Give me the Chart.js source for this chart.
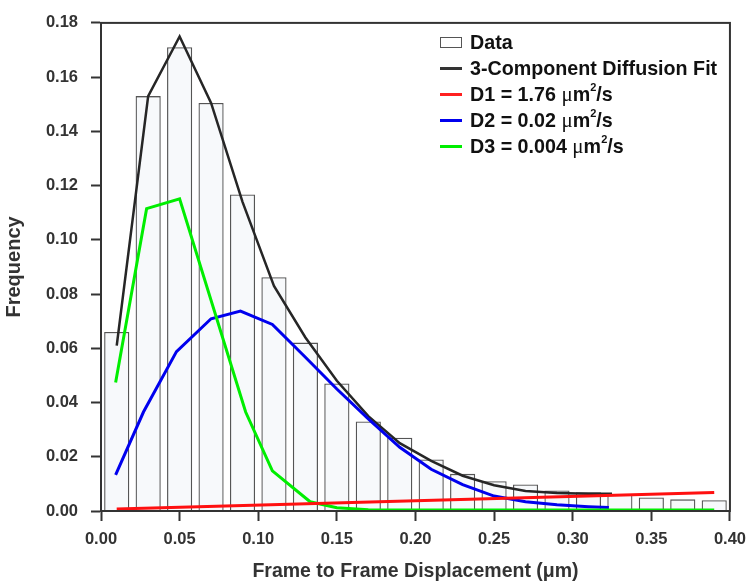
<!DOCTYPE html>
<html>
<head>
<meta charset="utf-8">
<script src="https://cdn.jsdelivr.net/npm/chart.js@4.4.0/dist/chart.umd.min.js"></script>
<style>
  body { margin: 0; background: #fff; }
  #wrap { position: relative; width: 755px; height: 588px; }
  #legend {
    position: absolute; left: 440px; top: 30px;
    font-family: "Liberation Sans", Arial, sans-serif; font-weight: bold;
    font-size: 19.7px; color: #111;
  }
  .row { height: 25.8px; display: flex; align-items: center; white-space: nowrap; }
  .sw { width: 22px; margin-right: 8px; box-sizing: border-box; flex: none; }
  .ln { height: 3px; }
  .bx { height: 11px; border: 1px solid #555; }
  .mu { font-family: "Liberation Serif", serif; font-weight: normal; font-size: 21px; }
  sup { font-size: 11px; position: relative; top: -7px; line-height: 0; vertical-align: baseline; }
</style>
</head>
<body>
<div id="wrap">
  <canvas id="myChart" width="755" height="588"></canvas>
  <div id="legend">
    <div class="row"><span class="sw bx"></span>Data</div>
    <div class="row"><span class="sw ln" style="background:#333"></span>3-Component Diffusion Fit</div>
    <div class="row"><span class="sw ln" style="background:#ff2020"></span>D1 = 1.76&nbsp;<span class="mu">μ</span>m<sup>2</sup>/s</div>
    <div class="row"><span class="sw ln" style="background:#0000ee"></span>D2 = 0.02&nbsp;<span class="mu">μ</span>m<sup>2</sup>/s</div>
    <div class="row"><span class="sw ln" style="background:#00ee00"></span>D3 = 0.004&nbsp;<span class="mu">μ</span>m<sup>2</sup>/s</div>
  </div>
</div>
<script>
// histogram bins (centre of each bin, um) and frequencies
const binCenters = [0.01, 0.03, 0.05, 0.07, 0.09, 0.11, 0.13, 0.15, 0.17, 0.19,
    0.21, 0.23, 0.25, 0.27, 0.29, 0.31, 0.33, 0.35, 0.37, 0.39];
const binFreq = [0.066, 0.153, 0.171, 0.1505, 0.1167, 0.0862, 0.0621, 0.047, 0.033, 0.027,
    0.019, 0.0137, 0.011, 0.0098, 0.0076, 0.0069, 0.006, 0.005, 0.0043, 0.004];

// 3-component fit
const fitX = [0.01, 0.03, 0.05, 0.07, 0.09, 0.11, 0.13, 0.15, 0.17, 0.19,
    0.21, 0.23, 0.25, 0.27, 0.29, 0.31, 0.325];
const fitY = [0.061, 0.153, 0.175, 0.1505, 0.114, 0.083, 0.064, 0.048, 0.035, 0.025,
    0.0185, 0.013, 0.0095, 0.0074, 0.0066, 0.0064, 0.0064];

// D1 component
const d1X = [0.01, 0.39];
const d1Y = [0.0007, 0.0068];

// D2 component
const d2X = [0.0093, 0.027, 0.048, 0.07, 0.0887, 0.109, 0.13, 0.15, 0.17, 0.19,
    0.21, 0.23, 0.25, 0.27, 0.29, 0.31, 0.323];
const d2Y = [0.0133, 0.0365, 0.0588, 0.0709, 0.0737, 0.0688, 0.0567, 0.045, 0.034, 0.0235,
    0.0154, 0.0097, 0.0055, 0.0034, 0.0023, 0.0016, 0.0013];

// D3 component
const d3X = [0.0093, 0.029, 0.05, 0.092, 0.109, 0.133, 0.15, 0.17, 0.2, 0.39];
const d3Y = [0.0474, 0.1115, 0.1151, 0.0365, 0.0148, 0.0034, 0.0012, 0.0005, 0.0004, 0.0004];

const pts = (xs, ys) => xs.map((x, i) => ({ x: x, y: ys[i] }));

const fontFam = '"Liberation Sans", Arial, sans-serif';
const axisColor = '#333';

// box round the plot area (top and right edges)
const frame = {
    id: 'frame',
    afterDraw(chart) {
        const a = chart.chartArea;
        const ctx = chart.ctx;
        ctx.save();
        ctx.strokeStyle = axisColor;
        ctx.lineWidth = 2;
        ctx.strokeRect(a.left, a.top, a.right - a.left, a.bottom - a.top);
        ctx.restore();
    }
};

const lineDefaults = {
    type: 'line',
    pointRadius: 0,
    borderWidth: 3,
    tension: 0,
    fill: false
};

const data = {
    datasets: [
        Object.assign({}, lineDefaults, {
            label: 'D1', data: pts(d1X, d1Y), borderColor: '#ff1010', order: 1
        }),
        Object.assign({}, lineDefaults, {
            label: 'D3', data: pts(d3X, d3Y), borderColor: '#00ee00', order: 2
        }),
        Object.assign({}, lineDefaults, {
            label: 'D2', data: pts(d2X, d2Y), borderColor: '#0000ee', order: 3
        }),
        Object.assign({}, lineDefaults, {
            label: '3-Component Diffusion Fit', data: pts(fitX, fitY),
            borderColor: '#262626', borderWidth: 2.5, order: 4
        }),
        {
            type: 'bar',
            label: 'Data',
            data: pts(binCenters, binFreq),
            backgroundColor: 'rgba(240,243,247,0.5)',
            borderColor: '#555',
            borderWidth: 1.3,
            barPercentage: 0.8,
            categoryPercentage: 1,
            order: 5
        }
    ]
};

const config = {
    type: 'bar',
    data: data,
    plugins: [frame],
    options: {
        responsive: false,
        animation: false,
        layout: { padding: { top: 12, right: 24, left: 0, bottom: 0 } },
        plugins: { legend: { display: false }, tooltip: { enabled: false } },
        scales: {
            x: {
                type: 'linear',
                min: 0, max: 0.4,
                offset: false,
                afterFit: function (scale) { scale.height = 77; },
                ticks: {
                    stepSize: 0.05,
                    padding: 9,
                    color: axisColor,
                    font: { family: fontFam, size: 16.5, weight: 'bold' },
                    callback: v => v.toFixed(2),
                    maxRotation: 0
                },
                grid: { offset: false, drawOnChartArea: false, tickLength: 10, tickWidth: 2, color: axisColor },
                border: { color: axisColor, width: 2 },
                title: {
                    display: true,
                    text: 'Frame to Frame Displacement (μm)',
                    color: axisColor,
                    font: { family: fontFam, size: 19.5, weight: 'bold' },
                    padding: { top: 0, bottom: 5 }
                }
            },
            y: {
                min: 0, max: 0.18,
                afterFit: function (scale) { scale.width = 101; },
                ticks: {
                    stepSize: 0.02,
                    padding: 13,
                    color: axisColor,
                    font: { family: fontFam, size: 16.5, weight: 'bold' },
                    callback: v => v.toFixed(2)
                },
                grid: { offset: false, drawOnChartArea: false, tickLength: 10, tickWidth: 2, color: axisColor },
                border: { color: axisColor, width: 2 },
                title: {
                    display: true,
                    text: 'Frequency',
                    color: axisColor,
                    font: { family: fontFam, size: 20, weight: 'bold' },
                    padding: { top: 2, bottom: 0 }
                }
            }
        }
    }
};

const myChart = new Chart(document.getElementById('myChart'), config);
</script>
</body>
</html>
